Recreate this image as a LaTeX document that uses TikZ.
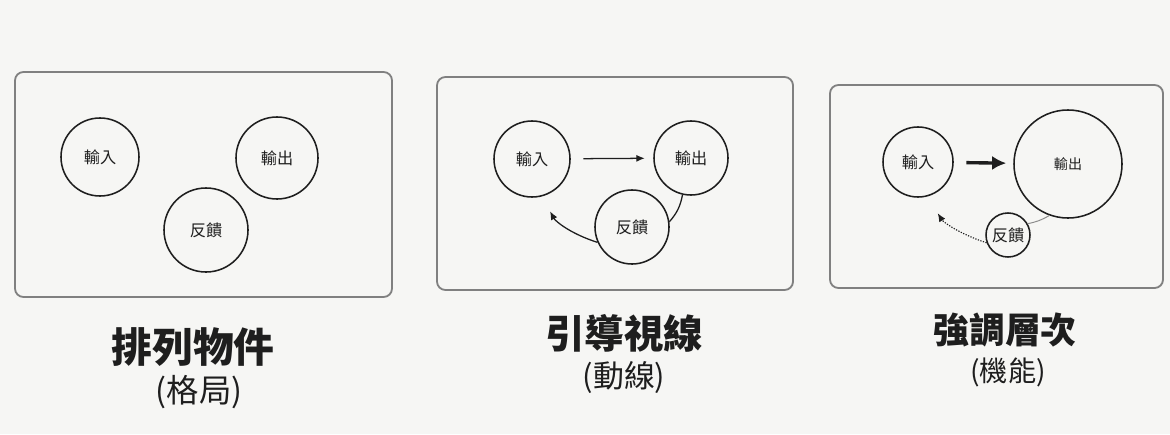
\documentclass[tikz,border=0pt]{standalone}
\usepackage{fontspec}
\newfontfamily\cjk{Noto Sans CJK TC}
\usepackage{tikz}
\usetikzlibrary{positioning, calc}
\usetikzlibrary{arrows.meta}
\definecolor{ink}{HTML}{1E1E1E}
\definecolor{paper}{HTML}{F6F6F4}

\begin{document}
\begin{tikzpicture}[x=0.025cm, y=-0.025cm,
	                    frame/.style={draw=black!50,
	                                  line width=1.3pt,
	                                  rounded corners=6pt},
	                    item/.style={circle,
	                                 draw=ink,
	                                 line width=1.1pt,
	                                 inner sep=0pt,
	                                 text=ink,
	                                 font=\cjk\fontsize{11.5}{13}\selectfont},
	                    title/.style={text=ink,
	                                  font=\cjk\bfseries\fontsize{29}{32}\selectfont},
	                    subtitle/.style={text=ink,
	                                     font=\cjk\fontsize{23}{26}\selectfont},
	                    post/.style={->,
	                                 draw=ink,
	                                 >={Latex[length=6pt,width=5pt]},
	                                 line width=0.9pt}]
	\fill[paper] (0,0) rectangle (1170,434);
	\useasboundingbox (0,0) rectangle (1170,434);

	% arrange
	\draw[frame] (15,72) rectangle (392,297);
	\node [item, minimum size=1.95cm] (Input1) at (100,157) {輸入};
	\node [item, minimum size=2.05cm] (Output1) at (277,158) {輸出};
	\node [item, minimum size=2.1cm] (Feedback1) at (206,230) {反饋};
	\node [title] (Arrange) at (193,347) {排列物件};
	\node [subtitle] (Layout) at (199,392) {(格局)};

	% guide
	\draw[frame] (437,77) rectangle (793,290);
	\node [item, minimum size=1.9cm] (Input2) at (532,159) {輸入};
	\node [item, minimum size=1.85cm] (Output2) at (691,158) {輸出};
	\node [item, minimum size=1.85cm] (Feedback2) at (632,227) {反饋};
	\draw[post, shorten <=9pt, shorten >=6pt] (Input2) -- (Output2);
	\draw[draw=ink, line width=0.9pt] (Output2.257) to[bend left=15] (Feedback2.8);
	\draw[post, shorten >=12pt] (Feedback2.204) to[bend left=22] (Input2.285);
	\node [title, font=\cjk\bfseries\fontsize{28}{31}\selectfont] (Guide) at (624,333) {引導視線};
	\node [subtitle, font=\cjk\fontsize{22}{25}\selectfont] (Flow) at (624,378) {(動線)};

	% emphasis
	\draw[frame] (830,85) rectangle (1163,288);
	\node [item, minimum size=1.75cm] (Input3) at (918,162) {輸入};
	\node [item, minimum size=2.7cm, font=\cjk\fontsize{10}{12}\selectfont] (Output3) at (1068,164) {輸出};
	\node [item, minimum size=1.1cm] (Feedback3) at (1008,235) {反饋};
	\draw[post, line width=2.4pt, >={Latex[length=10pt,width=10pt]}, shorten <=9pt, shorten >=5pt] (Input3) -- (Output3);
	\draw[draw=black!45, line width=0.7pt] (Output3.250) to[bend left=10] (Feedback3.30);
	\draw[post, densely dotted, line width=0.8pt, shorten >=14pt] (Feedback3.200) to[bend left=20] (Input3.285);
	\node [title, font=\cjk\bfseries\fontsize{25.5}{28}\selectfont] (Emphasis) at (1005,330) {強調層次};
	\node [subtitle, font=\cjk\fontsize{20}{23}\selectfont] (Function) at (1008,372) {(機能)};
\end{tikzpicture}
\end{document}
